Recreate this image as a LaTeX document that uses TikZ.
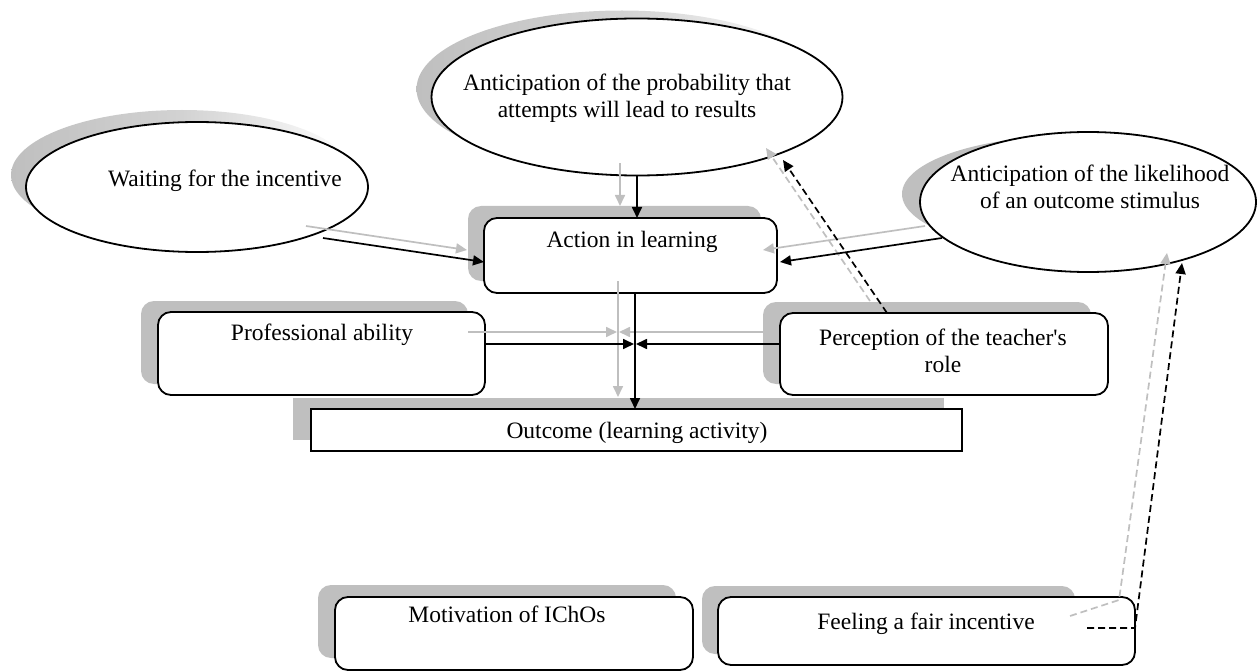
\documentclass[tikz,border=0pt]{standalone}
\usepackage{fontspec}
\setmainfont{Liberation Serif}[Ligatures=TeXOff]
\usetikzlibrary{arrows.meta,calc,shapes.geometric}
\definecolor{shd}{HTML}{BFBFBF}
\begin{document}
\begin{tikzpicture}[x=1pt,y=-1pt,
 every node/.style={inner sep=0pt,outer sep=0pt},
 eshadow/.style={ellipse,draw=none,left color=shd,right color=white,middle color=shd!70},
 ell/.style={ellipse,draw=black,line width=1.8pt,fill=white},
 rbox/.style={rectangle,rounded corners=13pt,draw=black,line width=1.8pt,fill=white},
 sbox/.style={rectangle,rounded corners=13pt,fill=shd,draw=none},
 txt/.style={font=\fontsize{23.5}{27}\selectfont,align=center},
 arr/.style={draw=black,line width=1.7pt,-{Triangle[length=11pt,width=10pt]}},
 garr/.style={draw=shd,line width=1.7pt,-{Triangle[length=11pt,width=10pt]}},
 dsh/.style={dash pattern=on 7pt off 4pt},
 gs/.style={xshift=-17pt,yshift=12pt},
]
\useasboundingbox (0,0) rectangle (1258,671);

% shadows
\node[eshadow,minimum width=411pt,minimum height=157pt] (ant1s) at (622,89) {};
\node[eshadow,minimum width=342pt,minimum height=130pt] (waits) at (182,175) {};
\node[ellipse,fill=shd,minimum width=336pt,minimum height=116pt] (ant2s) at (1070,194) {};
\node[sbox,minimum width=293pt,minimum height=75pt] (acts) at (614.5,243.5) {};
\node[sbox,minimum width=327pt,minimum height=83pt] (profs) at (304.5,342.5) {};
\node[sbox,minimum width=328pt,minimum height=82pt] (percs) at (927,343) {};
\node[rectangle,fill=shd,minimum width=651pt,minimum height=42pt] (outs) at (618.5,419) {};
\node[sbox,minimum width=358pt,minimum height=73pt] (mots) at (497,621.5) {};
\node[sbox,minimum width=373pt,minimum height=68pt] (feels) at (888.5,620) {};

% shapes
\node[ell,minimum width=411pt,minimum height=157pt] (ant1) at (637,97) {};
\node[ell,minimum width=342pt,minimum height=130pt] (wait) at (197,187) {};
\node[ell,minimum width=336pt,minimum height=140pt] (ant2) at (1088,202) {};
\node[rbox,minimum width=293pt,minimum height=75pt] (act) at (630.5,255.5) {};
\node[rbox,minimum width=327pt,minimum height=83pt] (prof) at (321.5,353.5) {};
\node[rbox,minimum width=328pt,minimum height=82pt] (perc) at (944,354) {};
\node[rectangle,draw=black,line width=1.8pt,fill=white,minimum width=651pt,minimum height=42pt] (out) at (636.5,430) {};
\node[rbox,minimum width=358pt,minimum height=73pt] (mot) at (514,633.5) {};
\node[rbox,minimum width=417pt,minimum height=68pt] (feel) at (926.5,631) {};

% texts
\node[txt] (ant1t) at (627,98) {Anticipation of the probability that\\attempts will lead to results};
\node[txt] (waitt) at (225,181) {Waiting for the incentive};
\node[txt] (ant2t) at (1090,187) {Anticipation of the likelihood\\of an outcome stimulus};
\node[txt] (actt) at (632,242) {Action in learning};
\node[txt] (proft) at (322,335) {Professional ability};
\node[txt] (perct) at (943,351) {Perception of the teacher's\\role};
\node[txt] (outt) at (637,433) {Outcome (learning activity)};
\node[txt] (mott) at (507,614) {Motivation of IChOs};
\node[txt] (feelt) at (926,624) {Feeling a fair incentive};

% connector end points
\coordinate (a1s) at (ant1.south);
\coordinate (a1e) at (act.north -| ant1.south);
\coordinate (a2s) at ($(wait.center)+(126,51)$);
\coordinate (a2e) at ($(act.west)+(0,6.5)$);
\coordinate (a3s) at ($(ant2.center)+(-146,36)$);
\coordinate (a3e) at ($(act.east)+(3,6.5)$);
\coordinate (a4s) at ($(act.south)+(4.5,0)$);
\coordinate (a4e) at (out.north -| a4s);
\coordinate (a5s) at ($(prof.east)+(0,-9.5)$);
\coordinate (a5e) at ($(a5s -| a4s)+(-1,0)$);
\coordinate (a6s) at ($(perc.west)+(0,-10)$);
\coordinate (a6e) at ($(a6s -| a4s)+(1,0)$);
\coordinate (a7s) at ($(perc.north)+(-57,0)$);
\coordinate (a7e) at ($(ant1.center)+(146,63)$);
\coordinate (a8s) at ($(feel.east)+(-48,-3)$);
\coordinate (a8m) at ($(feel.east)+(0,-3)$);
\coordinate (a8e) at ($(ant2.center)+(94,61)$);
\coordinate (a8gs) at ($(feel.east)+(-65,-15)$);
\coordinate (a8gm) at ($(feel.north east)+(-16,3)$);
\coordinate (a8ge) at ($(ant2.center)+(79,51)$);

% gray (shadow) connectors
\draw[garr] ([gs]a1s) -- ([gs]a1e);
\draw[garr] ([gs]a2s) -- ([gs]a2e);
\draw[garr] ([gs]a3s) -- ([gs]a3e);
\draw[garr] ([gs]a4s) -- ([gs]a4e);
\draw[garr] ([gs]a5s) -- ([gs]a5e);
\draw[garr] ([gs]a6s) -- ([gs]a6e);
\draw[garr,dsh] ([gs]a7s) -- ([gs]a7e);
\draw[garr,dsh] (a8gs) -- (a8gm) -- (a8ge);

% black connectors
\draw[arr] (a1s) -- (a1e);
\draw[arr] (a2s) -- (a2e);
\draw[arr] (a3s) -- (a3e);
\draw[arr] (a4s) -- (a4e);
\draw[arr] (a5s) -- (a5e);
\draw[arr] (a6s) -- (a6e);
\draw[arr,dsh] (a7s) -- (a7e);
\draw[arr,dsh] (a8s) -- (a8m) -- (a8e);
\end{tikzpicture}
\end{document}
